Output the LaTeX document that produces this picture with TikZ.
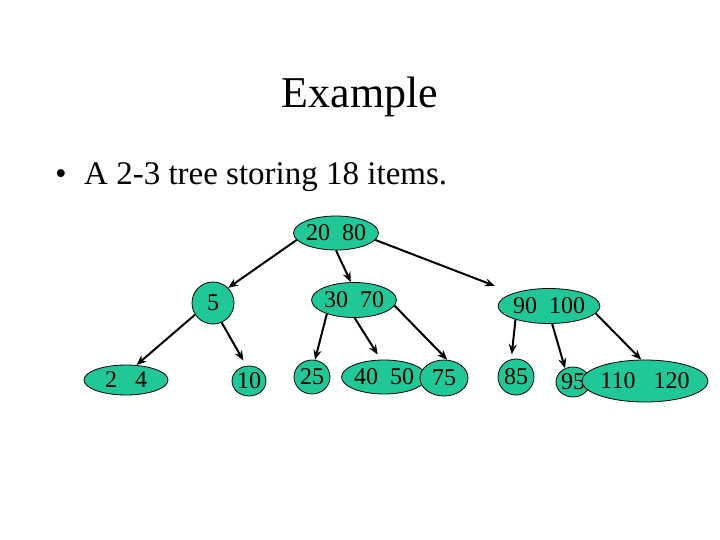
\documentclass[tikz,border=0pt]{standalone}
\usepackage{fontspec}
\setmainfont{Liberation Serif}
\usetikzlibrary{arrows.meta,shapes.geometric}
\definecolor{nodeteal}{RGB}{32,200,152}
\tikzset{>={Stealth[length=10pt,width=8pt]}}

\begin{document}
\begin{tikzpicture}[x=1pt,y=-1pt]
      \tikzset{key node/.style={ellipse,draw=black,line width=0.8pt,fill=nodeteal,inner sep=0pt,
          font=\fontsize{24}{26}\selectfont,minimum width=#1}}
      \tikzset{tree arrow/.style={->,line width=2pt}}

      \useasboundingbox (0,0) rectangle (720,540);

      % title and bullet line
      \node (title) [anchor=base,font=\fontsize{44}{50}\selectfont] at (360,108) {Example};
      \node (dot) [anchor=base west,inner sep=0pt,font=\fontsize{33}{36}\selectfont] at (55,185) {\textbullet};
      \node (line) [anchor=base west,inner sep=0pt,font=\fontsize{33}{36}\selectfont] at (84,185) {A 2-3 tree storing 18 items.};

      % internal nodes
      \node (root) [key node=83pt,minimum height=34pt] at (336,233) {20~~80};
      \node (n5) [key node=42pt,minimum height=42pt] at (213,303) {5};
      \node (n3070) [key node=84pt,minimum height=35pt] at (354,300) {30~~70};
      \node (n90100) [key node=90pt,minimum height=35pt] at (549,306) {90~~100};

      % leaves
      \node (n24) [key node=84pt,minimum height=30pt] at (126,380) {2~~~4};
      \node (n10) [key node=31pt,minimum height=30pt] at (249,381) {10};
      \node (n25) [key node=36pt,minimum height=34pt] at (312,377) {25};
      \node (n4050) [key node=60pt,minimum height=34pt] at (384,377) {40~~50};
      \node (n75) [key node=48pt,minimum height=36pt] at (444,378) {75};
      \node (n85) [key node=36pt,minimum height=36pt] at (516,377) {85};
      \node (n95) [key node=30pt,minimum height=30pt] at (573,382) {95};
      \node (n110120) [key node=90pt,minimum height=42pt] at (645,381) {110~~~120};

      \draw [tree arrow] (root.190) -- (n5.45);
      \draw [tree arrow] (root.south) -- (n3070.100);
      \draw [tree arrow,shorten >=20pt] (root.350) -- (n90100.160);

      \draw [tree arrow] (n5.213) -- (n24.55);
      \draw [tree arrow,shorten >=6pt] (n5.294) -- (n10.100);

      \draw [tree arrow] (n3070.207) -- (n25.80);
      \draw [tree arrow,shorten >=6pt] (n3070.272) -- (n4050.100);
      \draw [tree arrow] (n3070.352) -- (n75.80);

      \draw [tree arrow,shorten >=5pt] (n90100.202) -- (n85.105);
      \draw [tree arrow] (n90100.280) -- (n95.120);
      \draw [tree arrow] (n90100.351) -- (n110120.100);
    \end{tikzpicture}
\end{document}
